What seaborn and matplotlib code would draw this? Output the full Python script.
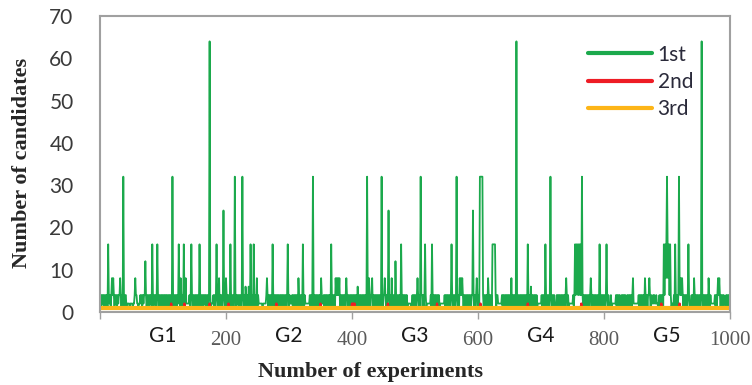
import numpy as np
import pandas as pd
import matplotlib
matplotlib.use("Agg")
import matplotlib.pyplot as plt
import seaborn as sns

sns.set_theme(style="white")

# green series ("1st"), read off the picture: one char per experiment,
# 10 chars per chunk, 10 chunks per block of 100 experiments
# codes: digit = value, a=12, b=16, c=24, d=32, e=64
first_chunks = [
    ["4142414241", "41b4241484", "8414241424", "484141d414", "4122221222",
     "2122484422", "1224241424", "4a41424142", "41b4142414", "b414141414"],
    ["4141414141", "4141d41414", "4142b41841", "41b4182222", "2414b41414",
     "1414141b41", "4141424141", "414e412224", "1414b41481", "41414c4148"],
    ["414141b414", "414d414241", "41414d4141", "64141641b4", "141b414181",
     "4222222122", "2224841414", "141b414141", "4141414141", "4141414b41"],
    ["4222414141", "4141841414", "1b41422222", "2241414d41", "4141414141",
     "8422414141", "414141b414", "1418484848", "1414141414", "8414141414"],
    ["4141414161", "4141414141", "414d418414", "4814141414", "414141d414",
     "4841414c41", "41814141a4", "1414141b41", "4141414122", "2221241414"],
    ["41484141d4", "41414b4122", "222241b414", "1414141412", "2222224141",
     "4141414b41", "41414d4141", "8484841414", "1414141414", "4c41414841"],
    ["41ddddd414", "1414184141", "41bbbbb414", "4222222414", "1414141414",
     "4181414141", "e414141414", "41414141b4", "1416141414", "4141222222"],
    ["414141b414", "1414d41414", "4121414141", "4141414148", "4141222222",
     "414b4b8b4b", "b4b4d41414", "1414141484", "1414141414", "41b4141414"],
    ["414b414121", "4122222241", "4141412414", "1414214141", "4141482222",
     "2222414141", "4141841414", "4841422424", "2242212414", "4141b4b8bd"],
    ["b8b4b41221", "41b41414d8", "4848414141", "414b412241", "4184141414",
     "1414e41414", "1414184142", "2222241414", "8484141414", "2214141414"],
]
codes = {"1": 1, "2": 2, "4": 4, "6": 6, "8": 8,
         "a": 12, "b": 16, "c": 24, "d": 32, "e": 64}

# red series ("2nd"): 1 everywhere, 2 at these experiments
second_peaks = [113, 134, 174, 204, 280, 350, 400, 402, 404, 457,
                535, 604, 679, 764, 891, 920]
# orange series ("3rd"): 1 everywhere
third_value = 1

x_ticks = [0, 200, 400, 600, 800, 1000]
x_labels = ["", "200", "400", "600", "800", "1000"]
group_pos = [100, 300, 500, 700, 900]
group_labels = ["G1", "G2", "G3", "G4", "G5"]

for blk in first_chunks:
    for ch in blk:
        assert len(ch) == 10, ch
first = [codes[c] for blk in first_chunks for ch in blk for c in ch]
n = len(first)
experiments = np.arange(1, n + 1)
second = [2 if e in second_peaks else 1 for e in experiments]
third = [third_value] * n

df = pd.DataFrame({
    "exp": np.concatenate([experiments] * 3),
    "val": first + second + third,
    "rank": ["1st"] * n + ["2nd"] * n + ["3rd"] * n,
})

colors = {"1st": "#1BA94C", "2nd": "#EE1C25", "3rd": "#FDB517"}
widths = {"1st": 1.3, "2nd": 1.6, "3rd": 3.0}

fig = plt.figure(figsize=(7.52, 3.85), dpi=100)
ax = fig.add_axes([100 / 752, 1 - 312 / 385, 630 / 752, 296 / 385])

for r in ["1st", "2nd", "3rd"]:
    sns.lineplot(data=df[df["rank"] == r], x="exp", y="val", color=colors[r],
                 linewidth=widths[r], ax=ax, label=r, estimator=None)

ax.set_xlim(0, 1000)
ax.set_ylim(0, 70)
ax.set_yticks(range(0, 71, 10))
ax.set_yticklabels([str(v) for v in range(0, 71, 10)],
                   fontfamily="Lato", fontsize=15, color="#3A3A3A")
ax.tick_params(axis="y", length=0, pad=19)

ax.set_xticks(x_ticks)
ax.set_xticklabels(x_labels, fontfamily="Liberation Serif", fontsize=15,
                   color="#5A5A5A")
ax.set_xticks(group_pos, minor=True)
ax.set_xticklabels(group_labels, minor=True, fontfamily="Lato",
                   fontsize=15, color="#1A1A1A")
ax.tick_params(axis="x", which="major", length=5, width=1, color="#A0A0A0",
               direction="out", pad=9, bottom=True)
ax.tick_params(axis="x", which="minor", length=0, pad=10)

for s in ax.spines.values():
    s.set_color("#A0A0A0")
    s.set_linewidth(1.5)

ax.set_xlabel("")
ax.set_ylabel("")
fig.text(371 / 752, 1 - 372 / 385, "Number of experiments",
         fontfamily="Liberation Serif", fontweight="bold", fontsize=16,
         ha="center", va="center")
fig.text(22 / 752, 1 - 163 / 385, "Number of candidates",
         fontfamily="Liberation Serif", fontweight="bold", fontsize=16,
         ha="center", va="center", rotation=90)

leg = ax.legend(loc="upper left", bbox_to_anchor=(569 / 752, 1 - 26 / 385),
                bbox_transform=fig.transFigure, frameon=False,
                prop={"family": "Lato", "size": 15}, handlelength=3.1,
                handletextpad=0.25, labelspacing=0.35)
for t in leg.get_texts():
    t.set_color("#2A2A3A")
for h in leg.get_lines():
    h.set_linewidth(3)

fig.savefig("out.png", dpi=100)
